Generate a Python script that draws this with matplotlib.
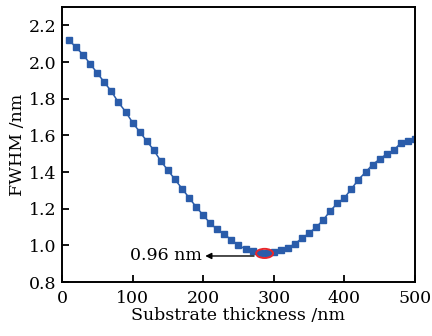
import numpy as np
import matplotlib
matplotlib.use("Agg")
import matplotlib.pyplot as plt
from matplotlib.patches import Ellipse

plt.rcParams['font.family'] = ['DejaVu Serif']
plt.rcParams['mathtext.fontset'] = 'dejavuserif'

# 衬底厚度 (nm) 与 FWHM (nm)
thickness = np.arange(10, 510, 10)
fwhm = [2.12, 2.08, 2.04, 1.99, 1.94, 1.89, 1.84, 1.78, 1.73, 1.67,
        1.62, 1.57, 1.52, 1.46, 1.41, 1.36, 1.31, 1.26, 1.21, 1.165,
        1.12, 1.087, 1.06, 1.03, 1.00, 0.98, 0.967, 0.958, 0.958, 0.963,
        0.974, 0.987, 1.009, 1.038, 1.067, 1.099, 1.138, 1.188, 1.229, 1.259,
        1.308, 1.359, 1.399, 1.441, 1.470, 1.499, 1.519, 1.559, 1.568, 1.579]

xticks = [0, 100, 200, 300, 400, 500]
yticks = [0.8, 1.0, 1.2, 1.4, 1.6, 1.8, 2.0, 2.2]

fig = plt.figure(figsize=(4.32, 3.36), dpi=100)
ax = fig.add_axes([0.1435, 0.1607, 0.817, 0.818])

ax.plot(thickness, fwhm, '-s', color='#2a5caa', lw=1.1, ms=4.0,
        mec='#2a5caa', mfc='#2a5caa')

# 最小值标注
ax.add_patch(Ellipse((287, 0.956), 24, 0.05, fill=False, ec='#e8262b', lw=1.4, zorder=5))
ax.annotate('', xy=(199, 0.942), xytext=(276, 0.942),
            arrowprops=dict(arrowstyle='-|>', color='black', lw=1.0, mutation_scale=9))
ax.text(198, 0.942, '0.96 nm', ha='right', va='center', fontsize=12.5)

ax.set_xlim(0, 500)
ax.set_ylim(0.8, 2.3)
ax.set_xticks(xticks)
ax.set_yticks(yticks)
ax.set_yticklabels(['%.1f' % v for v in yticks])
ax.tick_params(direction='in', length=5, width=1.3, labelsize=12.5)
ax.tick_params(axis='x', pad=6)
ax.tick_params(axis='y', pad=4)
for s in ax.spines.values():
    s.set_linewidth(1.4)

ax.set_xlabel('Substrate thickness /nm', fontsize=12.5, labelpad=0)
ax.set_ylabel('FWHM /nm', fontsize=12.5, labelpad=2)

fig.savefig('out.png', dpi=100)
